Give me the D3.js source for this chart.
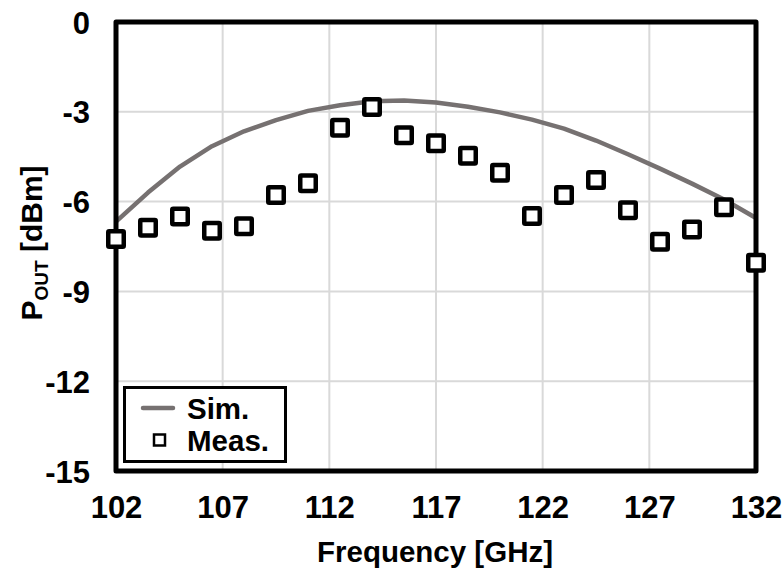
<!DOCTYPE html>
<html>
<head>
<meta charset="utf-8">
<script src="https://cdn.jsdelivr.net/npm/d3@7"></script>
<style>
  html, body { margin: 0; padding: 0; background: #fff; }
  svg { display: block; font-family: "Liberation Sans", Arial, sans-serif; font-weight: bold; }
</style>
</head>
<body>
<svg id="chart" width="782" height="570"></svg>
<script>
// ---- data ----
const measFreq = [102, 103.5, 105, 106.5, 108, 109.5, 111, 112.5, 114, 115.5, 117, 118.5, 120, 121.5, 123, 124.5, 126, 127.5, 129, 130.5, 132];
const measPout = [-7.25, -6.87, -6.50, -6.97, -6.82, -5.78, -5.39, -3.53, -2.84, -3.78, -4.05, -4.47, -5.04, -6.48, -5.78, -5.28, -6.29, -7.34, -6.93, -6.19, -8.04];
const simFreq = [102, 103.5, 105, 106.5, 108, 109.5, 111, 112.5, 114, 115.5, 117, 118.5, 120, 121.5, 123, 124.5, 126, 127.5, 129, 130.5, 132];
const simPout = [-6.67, -5.70, -4.83, -4.15, -3.65, -3.28, -2.97, -2.78, -2.65, -2.62, -2.69, -2.83, -3.02, -3.26, -3.56, -3.96, -4.42, -4.90, -5.40, -5.93, -6.55];
const xTicks = [102, 107, 112, 117, 122, 127, 132];
const yTicks = [0, -3, -6, -9, -12, -15];
const legendLabels = ["Sim.", "Meas."];
const xTitle = "Frequency [GHz]";

// ---- layout ----
const svg = d3.select("#chart");
const L = 116, R = 756, T = 22, B = 471;
const x = d3.scaleLinear().domain([102, 132]).range([L, R]);
const y = d3.scaleLinear().domain([-15, 0]).range([B, T]);
const FONT = "Liberation Sans, Arial, sans-serif";

// grid
const grid = svg.append("g");
grid.selectAll("line.vx").data(xTicks).join("line")
  .attr("x1", d => x(d)).attr("x2", d => x(d)).attr("y1", T).attr("y2", B)
  .attr("stroke", "#d9d9d9").attr("stroke-width", 2);
grid.selectAll("line.hy").data(yTicks).join("line")
  .attr("y1", d => y(d)).attr("y2", d => y(d)).attr("x1", L).attr("x2", R)
  .attr("stroke", "#d9d9d9").attr("stroke-width", 2);

// x axis labels
const xAxis = d3.axisBottom(x).tickValues(xTicks).tickSize(0).tickPadding(0).tickFormat(d => String(d));
const gx = svg.append("g").attr("transform", `translate(0,${B})`).call(xAxis);
gx.select(".domain").remove();
gx.selectAll("text").attr("dy", null).attr("y", 46.5).attr("font-size", 31).attr("font-weight", "bold")
  .attr("font-family", FONT).attr("fill", "#000");

// y axis labels
const yAxis = d3.axisLeft(y).tickValues(yTicks).tickSize(0).tickPadding(0).tickFormat(d => String(d));
const gy = svg.append("g").attr("transform", `translate(90,0)`).call(yAxis);
gy.select(".domain").remove();
gy.selectAll("text").attr("x", 0).attr("dy", "0.36em").attr("font-size", 31).attr("font-weight", "bold")
  .attr("font-family", FONT).attr("fill", "#000");

// sim line
svg.append("path")
  .datum(simFreq.map((f, i) => [f, simPout[i]]))
  .attr("fill", "none").attr("stroke", "#767171").attr("stroke-width", 4.5)
  .attr("stroke-linejoin", "round")
  .attr("d", d3.line().x(d => x(d[0])).y(d => y(d[1])));

// frame
svg.append("rect").attr("x", L).attr("y", T).attr("width", R - L).attr("height", B - T)
  .attr("fill", "none").attr("stroke", "#000").attr("stroke-width", 5).attr("stroke-linejoin", "round");

// measured markers
const ms = 15.5;
svg.append("g").selectAll("rect").data(measFreq.map((f, i) => [f, measPout[i]])).join("rect")
  .attr("x", d => x(d[0]) - ms / 2).attr("y", d => y(d[1]) - ms / 2)
  .attr("width", ms).attr("height", ms).attr("rx", 1)
  .attr("fill", "#fff").attr("stroke", "#000").attr("stroke-width", 4.5);

// legend
const lg = svg.append("g");
lg.append("rect").attr("x", 124.5).attr("y", 387.5).attr("width", 161).attr("height", 74)
  .attr("fill", "#fff").attr("stroke", "#000").attr("stroke-width", 3);
lg.append("line").attr("x1", 143).attr("x2", 173).attr("y1", 408).attr("y2", 408)
  .attr("stroke", "#767171").attr("stroke-width", 4.5).attr("stroke-linecap", "round");
lg.append("rect").attr("x", 154).attr("y", 434.5).attr("width", 11).attr("height", 11)
  .attr("fill", "#fff").attr("stroke", "#000").attr("stroke-width", 2.5);
lg.selectAll("text").data(legendLabels).join("text")
  .attr("x", 187).attr("y", (d, i) => 419 + i * 32)
  .attr("font-size", 29.5).attr("fill", "#000").text(d => d);

// axis titles
svg.append("text").attr("x", 435).attr("y", 561.5).attr("text-anchor", "middle")
  .attr("font-size", 29.5).attr("fill", "#000").text(xTitle);

const yt = svg.append("text").attr("transform", "translate(41.5,243) rotate(-90)")
  .attr("text-anchor", "middle").attr("font-size", 30).attr("fill", "#000");
yt.append("tspan").text("P");
yt.append("tspan").attr("font-size", 19).attr("dy", 6).text("OUT");
yt.append("tspan").attr("dy", -6).text(" [dBm]");
</script>
</body>
</html>
